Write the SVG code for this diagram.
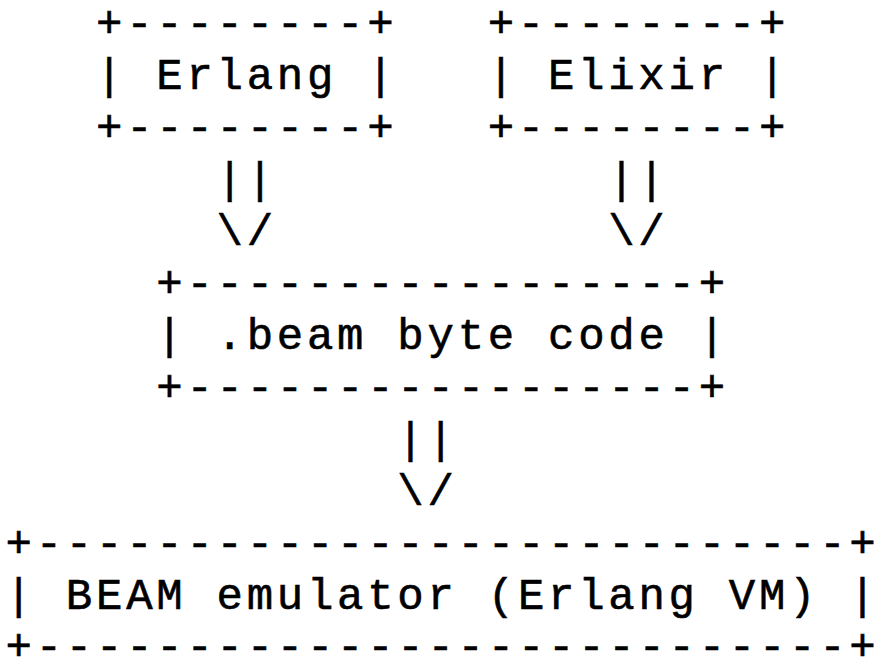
<svg xmlns="http://www.w3.org/2000/svg" width="877" height="657" viewBox="0 0 877 657">
<style>
text { font-family: "Liberation Mono", "Courier New", monospace; font-size: 44px; letter-spacing: 3.73px; fill: #000; stroke: #000; stroke-width: 0.6px; }
.last { letter-spacing: 0; }
</style>
<rect width="877" height="657" fill="#fff"/>
<g id="erlang">
<text x="96.0" y="37.3">+--------+</text>
<text x="96.0" y="89.3">| Erlang |</text>
<text x="96.0" y="141.3">+--------+</text>
</g>
<g id="elixir">
<text x="487.7" y="37.3">+--------+</text>
<text x="487.7" y="89.3">| Elixir |</text>
<text x="487.7" y="141.3">+--------+</text>
</g>
<g id="beam">
<text x="156.3" y="297.3">+-----------------+</text>
<text x="156.3" y="349.3">| .beam byte code |</text>
<text x="156.3" y="401.3">+-----------------+</text>
</g>
<g id="emulator">
<text x="5.6" y="557.3">+---------------------------<tspan class="last">+</tspan></text>
<text x="5.6" y="609.3">| BEAM emulator (Erlang VM) <tspan class="last">|</tspan></text>
<text x="5.6" y="660.3">+---------------------------<tspan class="last">+</tspan></text>
</g>
<g id="connectors">
<text x="216.5" y="193.3">||</text>
<text x="216.5" y="245.3">\/</text>
<text x="608.2" y="193.3">||</text>
<text x="608.2" y="245.3">\/</text>
<text x="397.3" y="453.3">||</text>
<text x="397.3" y="505.3">\/</text>
</g>
</svg>
